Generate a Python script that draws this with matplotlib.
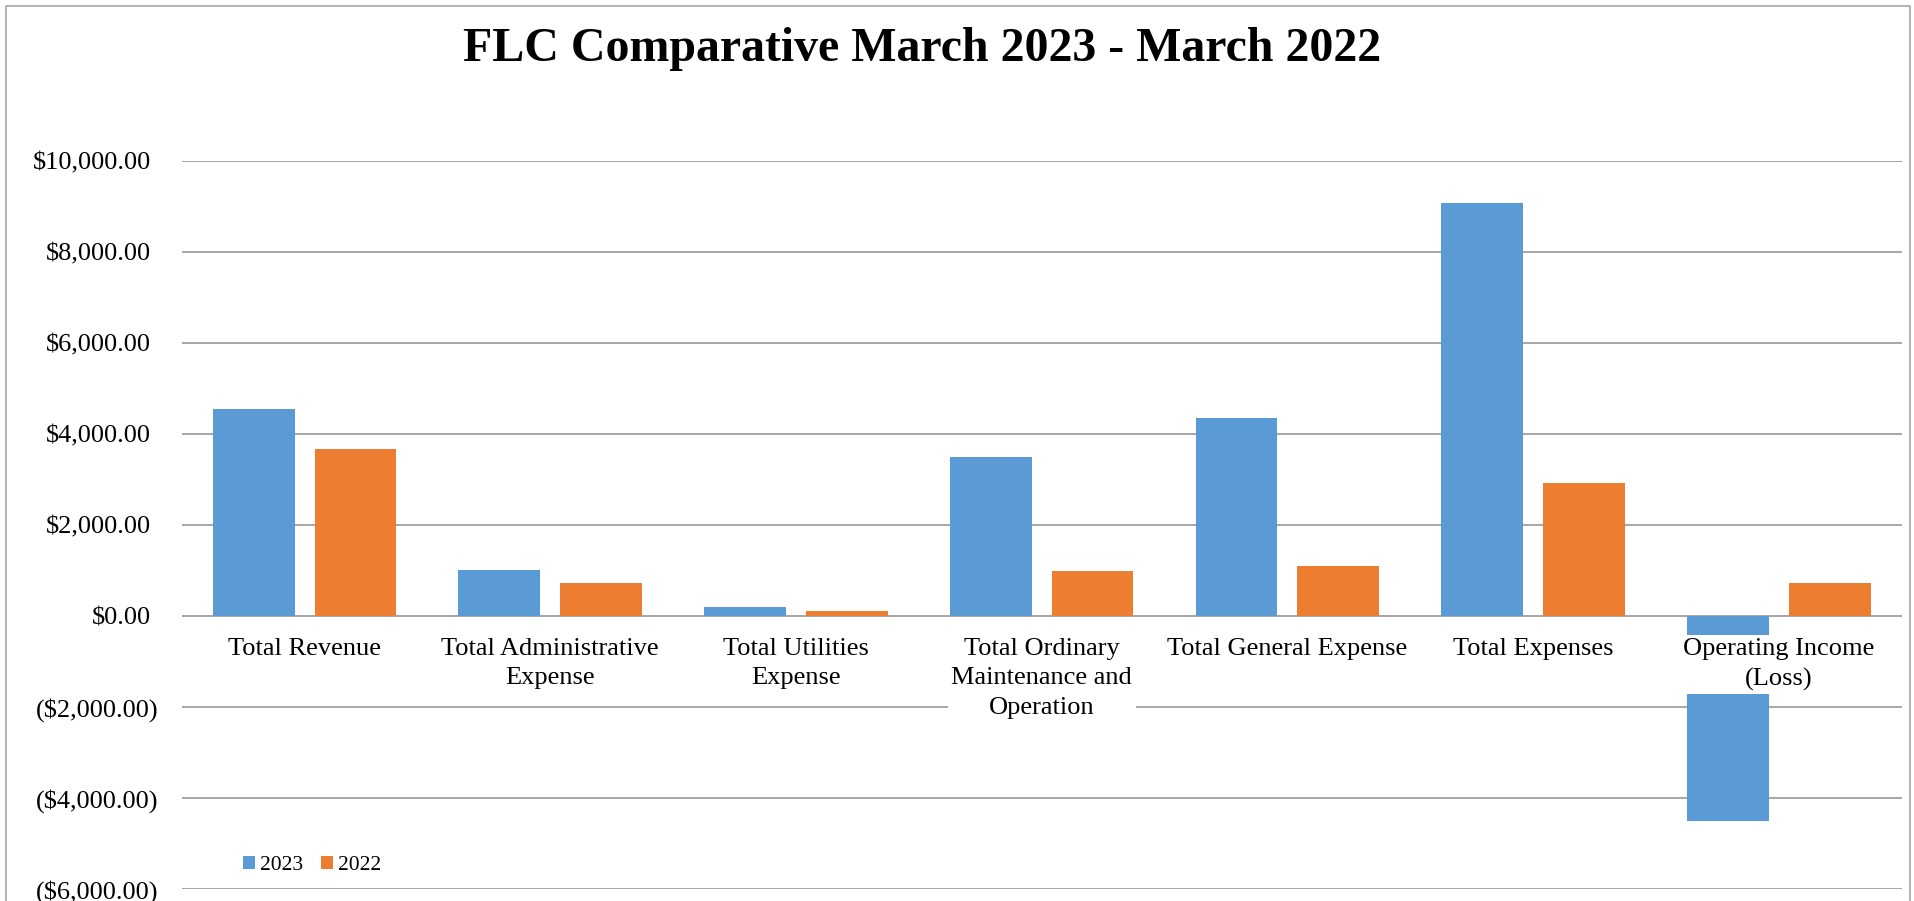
import matplotlib
matplotlib.use("Agg")
import matplotlib.pyplot as plt
from matplotlib.patches import Patch, Rectangle
import numpy as np

# Chart data
categories = [
    "Total Revenue",
    "Total Administrative\nExpense",
    "Total Utilities\nExpense",
    "Total Ordinary\nMaintenance and\nOperation",
    "Total General Expense",
    "Total Expenses",
    "Operating Income\n(Loss)",
]
values_2023 = [4558, 1004, 207, 3488, 4352, 9075, -4515]
values_2022 = [3664, 725, 103, 989, 1092, 2932, 725]
series_names = ["2023", "2022"]
y_ticks = [10000, 8000, 6000, 4000, 2000, 0, -2000, -4000, -6000]

BLUE = "#5B9BD5"
ORANGE = "#ED7D31"
GRID = "#A6A6A6"
FONT = "Liberation Serif"

plt.rcParams["font.family"] = [FONT, "DejaVu Serif"]

W, H = 1914, 901
fig = plt.figure(figsize=(W / 100, H / 100), dpi=100)
fig.patch.set_facecolor("white")

# outer chart border
fig.patches.append(Rectangle((6 / W, -0.05), (1910 - 6) / W, 1 - 6 / H + 0.05,
                             transform=fig.transFigure, fill=False,
                             edgecolor="#A0A0A0", linewidth=1.1))

left, right = 181.7, 1901.7
top, bottom = 161.0, 889.0
ax = fig.add_axes([left / W, 1 - bottom / H, (right - left) / W, (bottom - top) / H])

x = np.arange(len(categories))
bw = 0.333
off = 0.207
ax.bar(x - off, values_2023, width=bw, color=BLUE, zorder=2, label=series_names[0])
ax.bar(x + off, values_2022, width=bw, color=ORANGE, zorder=2, label=series_names[1])

ax.set_xlim(-0.5, len(categories) - 0.5)
ax.set_ylim(-6000, 10000)
ax.set_axisbelow(True)
ax.yaxis.grid(True, color=GRID, linewidth=1.4)
ax.xaxis.grid(False)
for s in ax.spines.values():
    s.set_visible(False)

ax.set_xticks([])


def money(v):
    s = f"${abs(v):,.2f}"
    return f"({s})" if v < 0 else s


ax.set_yticks(y_ticks)
ax.set_yticklabels([money(v) for v in y_ticks], fontsize=19, family=FONT)
ax.tick_params(axis="y", length=0)
for tick, v in zip(ax.yaxis.get_major_ticks(), y_ticks):
    tick.set_pad(22.3 if v >= 0 else 16.8)

# category labels sit just under the zero line on a white backing
for i, lab in enumerate(categories):
    ax.annotate(lab, xy=(i, 0), xytext=(0, -16.0), textcoords="offset points",
                ha="center", va="top", fontsize=19, family=FONT,
                linespacing=1.42, zorder=5, annotation_clip=False,
                bbox=dict(boxstyle="square,pad=0.13", facecolor="white",
                          edgecolor="none"))

fig.text(922 / W, 1 - 61 / H, "FLC Comparative March 2023 - March 2022",
         ha="center", va="baseline", fontsize=34.5, fontweight="bold", family=FONT)

handles = [Patch(facecolor=BLUE, edgecolor="none"),
           Patch(facecolor=ORANGE, edgecolor="none")]
fig.legend(handles, series_names, loc="center left",
           bbox_to_anchor=(243 / W, 1 - 865.7 / H), bbox_transform=fig.transFigure,
           ncol=2, frameon=False, prop={"family": FONT, "size": 15.5},
           handlelength=0.54, handleheight=0.54, handletextpad=0.25,
           columnspacing=0.85, borderpad=0, borderaxespad=0)

fig.savefig("out.png", dpi=100, facecolor="white")
